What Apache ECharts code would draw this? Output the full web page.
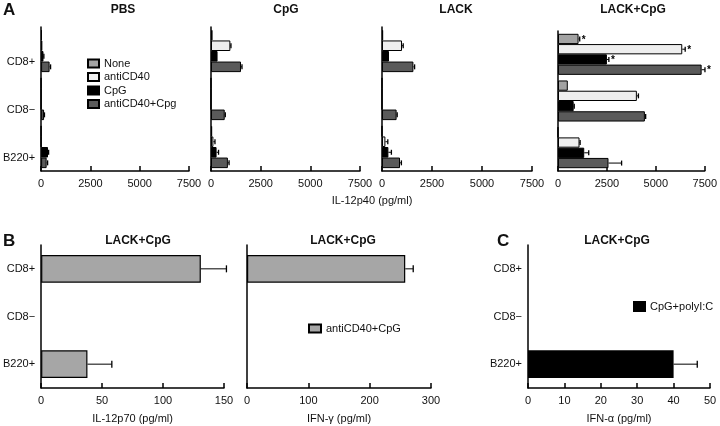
<!DOCTYPE html>
<html>
<head>
<meta charset="utf-8">
<script src="https://cdn.jsdelivr.net/npm/echarts@6/dist/echarts.min.js"></script>
<style>
  html, body { margin: 0; padding: 0; background: #fff; }
  #chart { width: 720px; height: 426px; }
</style>
</head>
<body>
<div id="chart"></div>
<script>
const cells = ['CD8+', 'CD8\u2212', 'B220+'];
const treatments = ['None', 'antiCD40', 'CpG', 'antiCD40+Cpg'];
const treatColors = ['#a2a2a2', '#eeeeee', '#000000', '#5a5a5a'];
const panelsA = ['PBS', 'CpG', 'LACK', 'LACK+CpG'];

// IL-12p40 (pg/ml): [treatment][cell]
const pbsMean = [[40, 0, 0], [60, 0, 0], [120, 0, 350], [430, 150, 280]];
const pbsErr = [[0, 0, 0], [0, 0, 0], [20, 0, 30], [50, 20, 50]];
const cpgMean = [[80, 0, 60], [975, 0, 120], [330, 0, 280], [1510, 690, 850]];
const cpgErr = [[0, 0, 0], [30, 0, 80], [0, 0, 100], [50, 30, 60]];
const lackMean = [[60, 0, 0], [1000, 0, 170], [350, 0, 320], [1570, 730, 900]];
const lackErr = [[0, 0, 0], [60, 0, 120], [0, 0, 150], [60, 30, 70]];
const lackCpgMean = [[1050, 500, 0], [6350, 4030, 1100], [2500, 800, 1340], [7340, 4440, 2580]];
const lackCpgErr = [[60, 0, 0], [150, 80, 30], [100, 30, 230], [170, 40, 670]];
const lackCpgStar = [['*', '', ''], ['*', '', ''], ['*', '', ''], ['*', '', '']];

// panel B / C
const il12p70 = [131, null, 38];
const il12p70Err = [21, 0, 20];
const ifnG = [258, null, null];
const ifnGErr = [13, 0, 0];
const ifnA = [null, null, 40];
const ifnAErr = [0, 0, 6.5];

const FONT = 'Liberation Sans, Arial, sans-serif';
const TXT = '#111';

const chart = echarts.init(document.getElementById('chart'), null, { renderer: 'canvas' });

function errRender(nSeries, gapFrac, capH) {
  return function (params, api) {
    const end = api.value(0), cat = api.value(1), s = api.value(2), base = api.value(3);
    const star = api.value(4);
    const band = api.size([0, 1])[1];
    const total = band * (1 - gapFrac);
    const bw = total / nSeries;
    const p0 = api.coord([base, cat]);
    const p1 = api.coord([end, cat]);
    const y = p0[1] - total / 2 + bw * (s + 0.5);
    const kids = [];
    if (end > base) {
      kids.push({ type: 'line', shape: { x1: p0[0], y1: y, x2: p1[0], y2: y }, style: { stroke: '#000', lineWidth: 1 } });
      kids.push({ type: 'line', shape: { x1: p1[0], y1: y - capH / 2, x2: p1[0], y2: y + capH / 2 }, style: { stroke: '#000', lineWidth: 1.3 } });
    }
    if (star === 1) {
      kids.push({ type: 'text', style: { x: p1[0] + 2, y: y + 1, text: '*', fill: '#000', font: 'bold 10px ' + FONT, verticalAlign: 'middle' } });
    }
    return { type: 'group', children: kids };
  };
}

function errData(mean, err, stars) {
  const out = [];
  mean.forEach((row, t) => row.forEach((v, c) => {
    if (v == null) return;
    const e = err[t][c];
    const st = stars && stars[t][c] ? 1 : 0;
    if (e > 0 || st) out.push([v + e, c, t, v, st]);
  }));
  return out;
}

const grids = [
  { left: 39, top: 27, width: 150, height: 144 },
  { left: 211, top: 27, width: 149, height: 144 },
  { left: 382, top: 27, width: 150, height: 144 },
  { left: 558, top: 31, width: 149, height: 140 },
  { left: 39, top: 245, width: 185, height: 143 },
  { left: 247, top: 245, width: 184, height: 143 },
  { left: 528, top: 245, width: 182, height: 143 }
];

const axisLine = { show: true, lineStyle: { color: '#000', width: 1.5 } };
const tickLabel = { color: TXT, fontSize: 11, fontFamily: FONT, margin: 7, formatter: v => String(v) };

function xAx(i, max, interval, name) {
  return {
    type: 'value', gridIndex: i, min: 0, max: max, interval: interval,
    axisLine: axisLine,
    axisTick: { show: true, inside: true, length: 5, lineStyle: { color: '#000', width: 1.5 } },
    splitLine: { show: false },
    axisLabel: tickLabel,
    name: name || '', nameLocation: 'middle', nameGap: 25,
    nameTextStyle: { color: TXT, fontSize: 11, fontFamily: FONT }
  };
}
function yAx(i, showLabel, shift) {
  return {
    type: 'category', gridIndex: i, data: cells, inverse: true,
    axisLine: axisLine, axisTick: { show: false },
    axisLabel: shift
      ? { show: showLabel, color: TXT, fontSize: 11, fontFamily: FONT, margin: 6, verticalAlign: 'top', padding: [5, 0, 0, 0] }
      : { show: showLabel, color: TXT, fontSize: 11, fontFamily: FONT, margin: 6 }
  };
}

const xAxes = [
  xAx(0, 7500, 2500), xAx(1, 7500, 2500), xAx(2, 7500, 2500), xAx(3, 7500, 2500),
  xAx(4, 150, 50, 'IL-12p70 (pg/ml)'), xAx(5, 300, 100, 'IFN-\u03b3 (pg/ml)'), xAx(6, 50, 10, 'IFN-\u03b1 (pg/ml)')
];
const yAxes = [
  yAx(0, true, true), yAx(1, false), yAx(2, false), yAx(3, false),
  yAx(4, true), yAx(5, false), yAx(6, true)
];

const series = [];
const aMeans = [pbsMean, cpgMean, lackMean, lackCpgMean];
const aErrs = [pbsErr, cpgErr, lackErr, lackCpgErr];
const GAP_A = 0.12;
aMeans.forEach((mean, g) => {
  treatments.forEach((t, k) => {
    series.push({
      type: 'bar', name: t, xAxisIndex: g, yAxisIndex: g, data: mean[k],
      barGap: '0%', barCategoryGap: (GAP_A * 100) + '%',
      itemStyle: { color: treatColors[k], borderColor: '#000', borderWidth: 1 },
      silent: true
    });
  });
  series.push({
    type: 'custom', xAxisIndex: g, yAxisIndex: g, silent: true, z: 5,
    renderItem: errRender(4, GAP_A, 5),
    data: errData(mean, aErrs[g], g === 3 ? lackCpgStar : null)
  });
});

const GAP_B = 0.42;
const bSets = [
  { name: 'antiCD40+CpG', data: il12p70, err: il12p70Err, color: '#a6a6a6', g: 4 },
  { name: 'antiCD40+CpG', data: ifnG, err: ifnGErr, color: '#a6a6a6', g: 5 },
  { name: 'CpG+polyI:C', data: ifnA, err: ifnAErr, color: '#000000', g: 6 }
];
bSets.forEach(b => {
  series.push({
    type: 'bar', name: b.name, xAxisIndex: b.g, yAxisIndex: b.g,
    data: b.data.map(v => v == null ? '-' : v),
    barCategoryGap: (GAP_B * 100) + '%',
    itemStyle: { color: b.color, borderColor: '#000', borderWidth: 1.2 },
    silent: true
  });
  series.push({
    type: 'custom', xAxisIndex: b.g, yAxisIndex: b.g, silent: true, z: 5,
    renderItem: errRender(1, GAP_B, 7),
    data: errData([b.data], [b.err], null)
  });
});

const legendText = { color: TXT, fontSize: 11, fontFamily: FONT };
const legends = [
  { data: treatments, orient: 'vertical', left: 87, top: 58, padding: 0, itemWidth: 11, itemHeight: 8, itemGap: 2.5, icon: 'rect', textStyle: legendText, selectedMode: false },
  { data: ['antiCD40+CpG'], left: 308, top: 323, padding: 0, itemWidth: 12, itemHeight: 8, icon: 'rect', textStyle: legendText, selectedMode: false },
  { data: ['CpG+polyI:C'], left: 633, top: 301, padding: 0, itemWidth: 11, itemHeight: 9, icon: 'rect', textStyle: legendText, selectedMode: false }
];

function label(text, x, y, size, bold, align) {
  return {
    type: 'text', x: x, y: y, silent: true,
    style: { text: text, fill: TXT, font: (bold ? 'bold ' : '') + size + 'px ' + FONT, align: align || 'center', verticalAlign: 'middle' }
  };
}
const graphics = [
  label('A', 3, 10, 17, true, 'left'),
  label(panelsA[0], 123, 10, 12, true),
  label(panelsA[1], 286, 10, 12, true),
  label(panelsA[2], 456, 10, 12, true),
  label(panelsA[3], 633, 10, 12, true),
  label('IL-12p40 (pg/ml)', 372, 201, 11, false),
  label('B', 3, 241, 17, true, 'left'),
  label('LACK+CpG', 138, 241, 12, true),
  label('LACK+CpG', 343, 241, 12, true),
  label('C', 497, 241, 17, true, 'left'),
  label('LACK+CpG', 617, 241, 12, true)
];

chart.setOption({
  animation: false,
  backgroundColor: '#fff',
  grid: grids,
  xAxis: xAxes,
  yAxis: yAxes,
  legend: legends,
  series: series,
  graphic: graphics
});
</script>
</body>
</html>
